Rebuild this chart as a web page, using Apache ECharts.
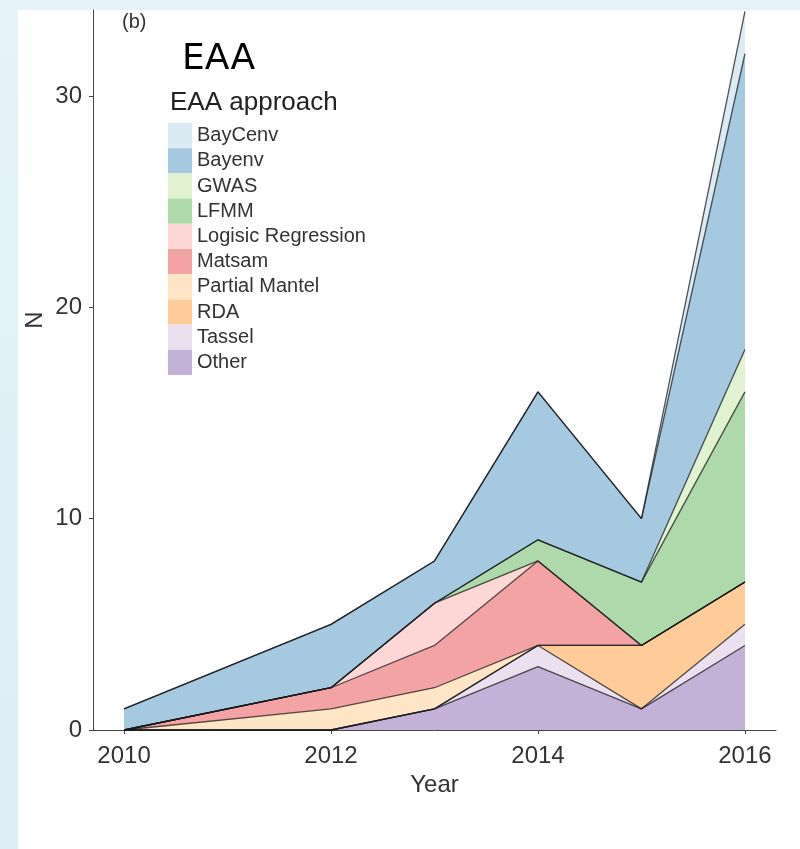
<!DOCTYPE html>
<html>
<head>
<meta charset="utf-8">
<script src="https://cdn.jsdelivr.net/npm/echarts@6/dist/echarts.min.js"></script>
<style>
  html, body { margin: 0; padding: 0; }
  body { width: 800px; height: 849px; position: relative; overflow: hidden;
         background: linear-gradient(180deg, #e6f3f9 0%, #dcedf6 100%); }
  #panel { position: absolute; left: 18px; top: 10px; right: 0; bottom: 0; background: #ffffff; }
  #chart { position: absolute; left: 0; top: 0; width: 800px; height: 849px; }
</style>
</head>
<body>
<div id="panel"></div>
<div id="chart"></div>
<script>
// ---- data ----
const years = [2010, 2012, 2013, 2014, 2015, 2016];
const other        = [0, 0, 1, 3, 1, 4];
const tassel       = [0, 0, 0, 1, 0, 1];
const rda          = [0, 0, 0, 0, 3, 2];
const partialMantel= [0, 1, 1, 0, 0, 0];
const matsam       = [0, 1, 2, 4, 0, 0];
const logisic      = [0, 0, 2, 0, 0, 0];
const lfmm         = [0, 0, 0, 1, 3, 9];
const gwas         = [0, 0, 0, 0, 0, 2];
const bayenv       = [1, 3, 2, 7, 3, 14];
const baycenv      = [0, 0, 0, 0, 0, 2];

const seriesNames = ['Other', 'Tassel', 'RDA', 'Partial Mantel', 'Matsam',
                     'Logisic Regression', 'LFMM', 'GWAS', 'Bayenv', 'BayCenv'];
const seriesValues = [other, tassel, rda, partialMantel, matsam,
                      logisic, lfmm, gwas, bayenv, baycenv];
const fillColors = ['#c3b1d7', '#eae0ef', '#ffcc99', '#fee5c5', '#f4a3a4',
                    '#fdd7d6', '#add9ab', '#e0f2d0', '#a5c9e1', '#dbebf4'];
const legendOrder = ['BayCenv', 'Bayenv', 'GWAS', 'LFMM', 'Logisic Regression',
                     'Matsam', 'Partial Mantel', 'RDA', 'Tassel', 'Other'];
const xTickValues = [2010, 2012, 2014, 2016];
const yTickValues = [0, 10, 20, 30];

const FONT = '"Liberation Sans", Arial, Helvetica, sans-serif';

const chart = echarts.init(document.getElementById('chart'), null, { renderer: 'canvas' });

// value first, year second, so the stack is applied to the N (y) dimension
const series = seriesNames.map((name, i) => ({
  name: name,
  type: 'line',
  stack: 'total',
  symbol: 'none',
  color: fillColors[i],
  encode: { x: 1, y: 0 },
  lineStyle: { color: '#1a1a1a', width: 1.3, opacity: 0.75 },
  areaStyle: { color: fillColors[i], opacity: 1 },
  emphasis: { disabled: true },
  data: years.map((y, k) => [seriesValues[i][k], y])
}));

const option = {
  backgroundColor: 'transparent',
  animation: false,
  grid: { left: 93, right: 24, top: 10, bottom: 119, containLabel: false },
  xAxis: {
    type: 'value',
    min: 2009.7,
    max: 2016.3,
    name: 'Year',
    nameLocation: 'middle',
    nameGap: 34,
    nameTextStyle: { fontFamily: FONT, fontSize: 24, color: '#333' },
    axisLine: { show: true, lineStyle: { color: '#444', width: 1 } },
    axisTick: { show: true, length: 4, lineStyle: { color: '#444' }, customValues: xTickValues },
    axisLabel: { customValues: xTickValues, margin: 14, fontFamily: FONT, fontSize: 24, color: '#333',
                 formatter: v => String(v) },
    splitLine: { show: false }
  },
  yAxis: {
    type: 'value',
    min: 0,
    max: 34.07,
    axisLine: { show: true, lineStyle: { color: '#444', width: 1 } },
    axisTick: { show: true, length: 4, lineStyle: { color: '#444' }, customValues: yTickValues },
    axisLabel: { customValues: yTickValues, margin: 11, fontFamily: FONT, fontSize: 24, color: '#333' },
    splitLine: { show: false }
  },
  legend: {
    orient: 'vertical',
    left: 168,
    top: 123,
    padding: 0,
    itemGap: 0,
    itemWidth: 24,
    itemHeight: 25.2,
    icon: 'rect',
    selectedMode: false,
    itemStyle: { borderWidth: 0 },
    textStyle: { fontFamily: FONT, fontSize: 20, color: '#333' },
    data: legendOrder.map(n => ({ name: n, itemStyle: { color: fillColors[seriesNames.indexOf(n)], borderWidth: 0 } }))
  },
  graphic: [
    { type: 'text', left: 122, top: 12,
      style: { text: '(b)', font: '20px ' + FONT, fill: '#333' } },
    { type: 'text', left: 182, top: 42,
      style: { text: 'EAA', font: '36px "DejaVu Sans", sans-serif', fill: '#000' } },
    { type: 'text', left: 170, top: 90,
      style: { text: 'EAA approach', font: '26px ' + FONT, fill: '#222' } },
    { type: 'text', x: 35, y: 320, rotation: Math.PI / 2,
      style: { text: 'N', font: '24px ' + FONT, fill: '#333', align: 'center', verticalAlign: 'middle' } }
  ],
  series: series
};

chart.setOption(option);
</script>
</body>
</html>
